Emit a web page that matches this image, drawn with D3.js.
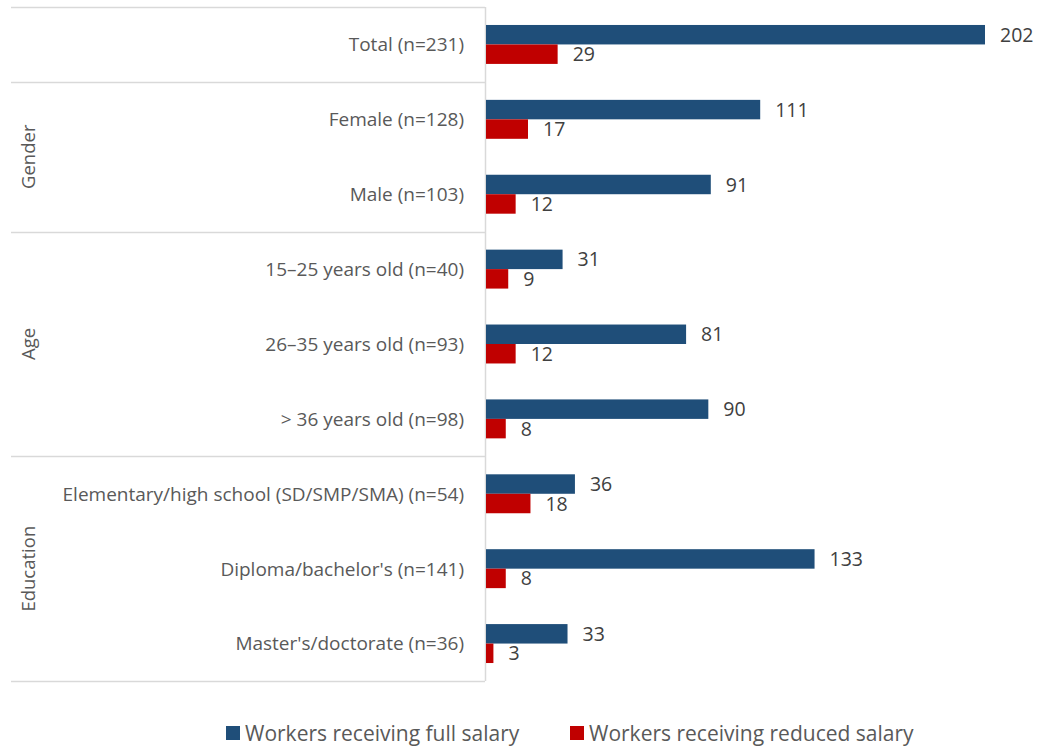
<!DOCTYPE html>
<html>
<head>
<meta charset="utf-8">
<script src="https://cdn.jsdelivr.net/npm/d3@7"></script>
<style>
  html, body { margin: 0; padding: 0; background: #fff; }
  svg { display: block; }
</style>
</head>
<body>
<svg id="chart" width="1040" height="747"></svg>
<script>
// Categories, top to bottom
const categories = [
  "Total (n=231)",
  "Female (n=128)",
  "Male (n=103)",
  "15\u201325 years old (n=40)",
  "26\u201335 years old (n=93)",
  "> 36 years old (n=98)",
  "Elementary/high school (SD/SMP/SMA) (n=54)",
  "Diploma/bachelor's (n=141)",
  "Master's/doctorate (n=36)"
];

// Group headings and the categories they span
const groups = [
  { name: "", members: ["Total (n=231)"] },
  { name: "Gender", members: ["Female (n=128)", "Male (n=103)"] },
  { name: "Age", members: ["15\u201325 years old (n=40)", "26\u201335 years old (n=93)", "> 36 years old (n=98)"] },
  { name: "Education", members: ["Elementary/high school (SD/SMP/SMA) (n=54)", "Diploma/bachelor's (n=141)", "Master's/doctorate (n=36)"] }
];

const fullSalary    = [202, 111, 91, 31, 81, 90, 36, 133, 33];
const reducedSalary = [29, 17, 12, 9, 12, 8, 18, 8, 3];

const seriesNames  = ["Workers receiving full salary", "Workers receiving reduced salary"];
const seriesColors = ["#1F4E79", "#C00000"];

const rows = categories.map((c, i) => ({
  category: c,
  values: [fullSalary[i], reducedSalary[i]]
}));

const svg = d3.select("#chart");
const fontFamily = "'Open Sans', sans-serif";

const plotTop = 7, plotBottom = 681;
const axisX = 485, leftEdge = 11;

const y = d3.scaleBand().domain(categories).range([plotTop, plotBottom]).paddingInner(0.48).paddingOuter(0.24);
const ySeries = d3.scaleBand().domain([0, 1]).range([0, y.bandwidth()]);
const x = d3.scaleLinear().domain([0, 202]).range([axisX + 1, 985]);

const step = y.step();
const rowTop = c => plotTop + categories.indexOf(c) * step;

// Group boundary lines
const gridColor = "#d9d9d9";
const boundaries = [plotTop];
groups.forEach(g => {
  const last = g.members[g.members.length - 1];
  boundaries.push(rowTop(last) + step);
});
svg.append("g").selectAll("line").data(boundaries).join("line")
  .attr("x1", leftEdge).attr("x2", axisX)
  .attr("y1", d => Math.round(d) + 0.5).attr("y2", d => Math.round(d) + 0.5)
  .attr("stroke", gridColor).attr("stroke-width", 1.5);

// Category axis line
svg.append("line")
  .attr("x1", axisX + 0.5).attr("x2", axisX + 0.5)
  .attr("y1", plotTop).attr("y2", plotBottom)
  .attr("stroke", gridColor).attr("stroke-width", 1.5);

// Bars
const rowG = svg.append("g").selectAll("g").data(rows).join("g")
  .attr("transform", d => `translate(0,${y(d.category)})`);

rowG.selectAll("rect").data(d => d.values.map((v, i) => ({ v, i }))).join("rect")
  .attr("x", x(0))
  .attr("y", d => ySeries(d.i))
  .attr("width", d => x(d.v) - x(0))
  .attr("height", ySeries.bandwidth())
  .attr("fill", d => seriesColors[d.i]);

// Value labels
rowG.selectAll("text").data(d => d.values.map((v, i) => ({ v, i }))).join("text")
  .attr("x", d => x(d.v) + 15)
  .attr("y", d => ySeries(d.i) + ySeries.bandwidth() / 2)
  .attr("dy", "0.36em")
  .attr("font-family", fontFamily)
  .attr("font-size", 19.5)
  .attr("fill", "#404040")
  .text(d => d.v);

// Category labels
svg.append("g").selectAll("text").data(categories).join("text")
  .attr("x", 464)
  .attr("y", d => y(d) + y.bandwidth() / 2)
  .attr("dy", "0.36em")
  .attr("text-anchor", "end")
  .attr("font-family", fontFamily)
  .attr("font-size", 19)
  .attr("fill", "#595959")
  .text(d => d);

// Group headings, rotated
svg.append("g").selectAll("text").data(groups.filter(g => g.name)).join("text")
  .attr("transform", g => {
    const top = rowTop(g.members[0]);
    const bottom = rowTop(g.members[g.members.length - 1]) + step;
    return `translate(28,${(top + bottom) / 2}) rotate(-90)`;
  })
  .attr("dy", "0.36em")
  .attr("text-anchor", "middle")
  .attr("font-family", fontFamily)
  .attr("font-size", 18.5)
  .attr("fill", "#595959")
  .text(g => g.name);

// Legend
const legendItems = [
  { name: seriesNames[0], color: seriesColors[0], x: 226 },
  { name: seriesNames[1], color: seriesColors[1], x: 570 }
];
const legend = svg.append("g").selectAll("g").data(legendItems).join("g")
  .attr("transform", d => `translate(${d.x},733)`);
legend.append("rect")
  .attr("x", 0).attr("y", -7).attr("width", 14).attr("height", 14)
  .attr("fill", d => d.color);
legend.append("text")
  .attr("x", 19).attr("y", 0).attr("dy", "0.36em")
  .attr("font-family", fontFamily)
  .attr("font-size", 21)
  .attr("fill", "#595959")
  .text(d => d.name);
</script>
</body>
</html>
